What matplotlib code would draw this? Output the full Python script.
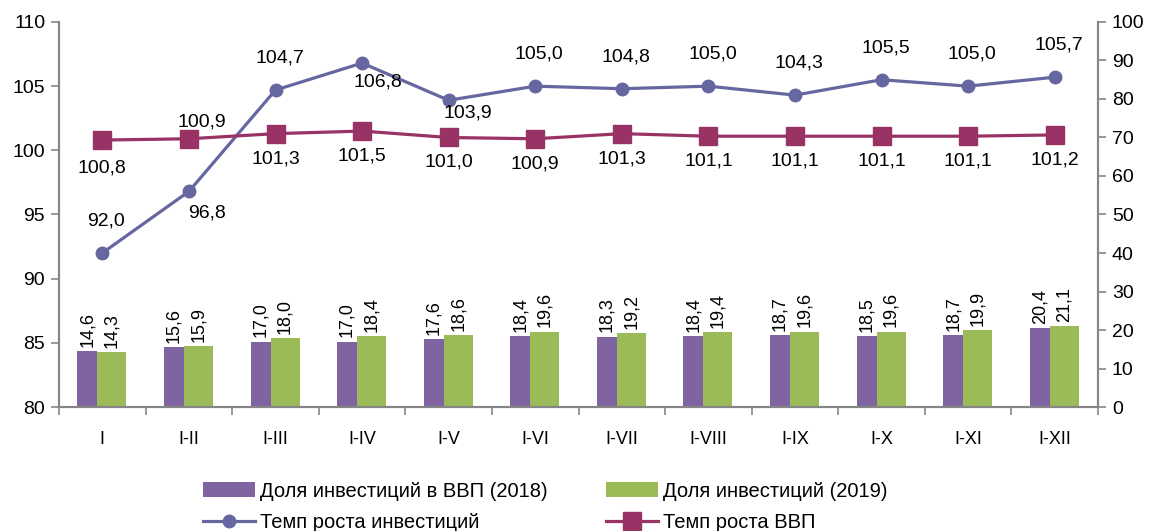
import numpy as np
import matplotlib.pyplot as plt

plt.rcParams["font.family"] = ["Liberation Sans", "DejaVu Sans"]

# Data
periods = ["I", "I-II", "I-III", "I-IV", "I-V", "I-VI", "I-VII", "I-VIII", "I-IX", "I-X", "I-XI", "I-XII"]
share_2018 = [14.6, 15.6, 17.0, 17.0, 17.6, 18.4, 18.3, 18.4, 18.7, 18.5, 18.7, 20.4]
share_2019 = [14.3, 15.9, 18.0, 18.4, 18.6, 19.6, 19.2, 19.4, 19.6, 19.6, 19.9, 21.1]
inv_growth = [92.0, 96.8, 104.7, 106.8, 103.9, 105.0, 104.8, 105.0, 104.3, 105.5, 105.0, 105.7]
gdp_growth = [100.8, 100.9, 101.3, 101.5, 101.0, 100.9, 101.3, 101.1, 101.1, 101.1, 101.1, 101.2]

c_2018 = "#8064A2"
c_2019 = "#9BBB59"
c_inv = "#6667A0"
c_gdp = "#993366"
grey = "#868686"

x = np.arange(len(periods))

fig = plt.figure(figsize=(11.49, 5.31), dpi=100)
ax = fig.add_axes([0.0514, 0.2335, 0.9042, 0.7251])  # lines, left axis
ax2 = ax.twinx()  # bars, right axis
ax.set_zorder(ax2.get_zorder() + 1)
ax.patch.set_visible(False)

# Bars (right axis)
b1 = ax2.bar(x - 0.173, share_2018, width=0.231, color=c_2018, label="Доля инвестиций в ВВП (2018)")
b2 = ax2.bar(x + 0.11, share_2019, width=0.335, color=c_2019, label="Доля инвестиций (2019)")
for xi, v in zip(x, share_2018):
    ax2.annotate(f"{v:.1f}".replace(".", ","), (xi - 0.173, v), xytext=(0, 3),
                 textcoords="offset points", rotation=90, ha="center", va="bottom", fontsize=13)
for xi, v in zip(x, share_2019):
    ax2.annotate(f"{v:.1f}".replace(".", ","), (xi + 0.11, v), xytext=(0, 3),
                 textcoords="offset points", rotation=90, ha="center", va="bottom", fontsize=13)

# Lines (left axis)
l1, = ax.plot(x, inv_growth, color=c_inv, lw=2.3, marker="o", ms=9, label="Темп роста инвестиций")
l2, = ax.plot(x, gdp_growth, color=c_gdp, lw=2.3, marker="s", ms=13, label="Темп роста ВВП")

px = 0.72  # points per pixel at 100 dpi
inv_off = {1: (18, -22), 3: (16, -19), 4: (19, -13)}
for i, v in enumerate(inv_growth):
    dx, dy = inv_off.get(i, (4, 32))
    ax.annotate(f"{v:.1f}".replace(".", ","), (x[i], v), xytext=(dx * px, dy * px),
                textcoords="offset points", ha="center", va="center", fontsize=14)
gdp_off = {0: (0, -28), 1: (13, 17)}
for i, v in enumerate(gdp_growth):
    dx, dy = gdp_off.get(i, (0, -25))
    ax.annotate(f"{v:.1f}".replace(".", ","), (x[i], v), xytext=(dx * px, dy * px),
                textcoords="offset points", ha="center", va="center", fontsize=14)

# Axes styling
ax.set_xlim(-0.5, len(periods) - 0.5)
ax.set_ylim(80, 110)
ax.set_yticks(range(80, 111, 5))
ax2.set_ylim(0, 100)
ax2.set_yticks(range(0, 101, 10))
ax.set_xticks(x)
ax.set_xticklabels(periods)
ax.set_xticks(np.arange(-0.5, len(periods)), minor=True)
ax.tick_params(axis="x", which="major", length=0, pad=17, labelsize=13)
ax.tick_params(axis="x", which="minor", length=6, color=grey, width=1.2)
ax.tick_params(axis="y", length=6, color=grey, width=1.2, labelsize=14, pad=4)
ax2.tick_params(axis="y", length=6, color=grey, width=1.2, labelsize=14, pad=4)
ax2.tick_params(axis="x", length=0)
for a in (ax, ax2):
    a.spines["top"].set_visible(False)
    for s in ("left", "right", "bottom"):
        a.spines[s].set_color(grey)
        a.spines[s].set_linewidth(1.5)

fig.legend(handles=[b1, l1, b2, l2], ncol=2, loc="center left",
           bbox_to_anchor=(0.161, 0.046), frameon=False, fontsize=14.5,
           handlelength=2.58, handletextpad=0.25, columnspacing=2.88, labelspacing=0.6)

fig.savefig("out.png", dpi=100)
